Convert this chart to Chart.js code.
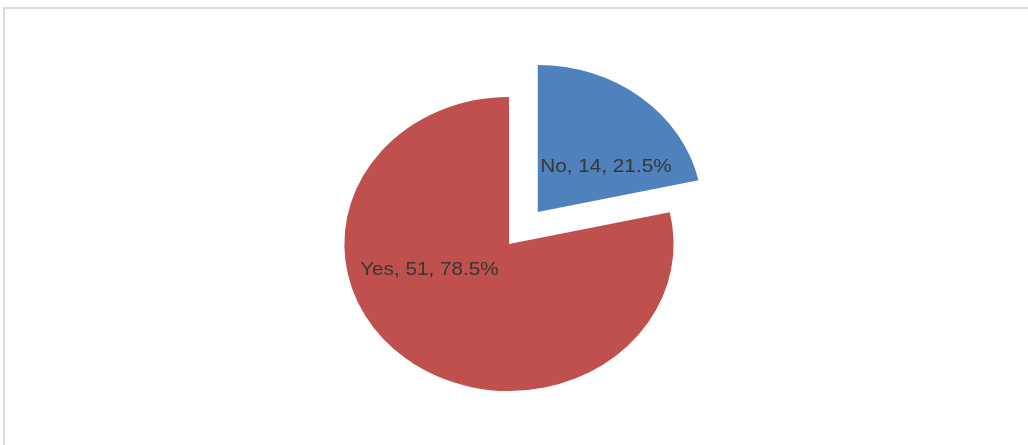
<!DOCTYPE html>
<html>
<head>
<meta charset="utf-8">
<script src="https://cdn.jsdelivr.net/npm/chart.js@4/dist/chart.umd.min.js"></script>
<style>
  html, body { margin: 0; padding: 0; background: #fff; }
  #wrap { position: relative; width: 1028px; height: 445px; overflow: hidden; }
  #frame {
    position: absolute; left: 3px; top: 7px; right: -30px; bottom: -30px;
    border-top: 2px solid #dcdcdc; border-left: 2px solid #dcdcdc;
  }
  canvas { position: absolute; left: 0; top: 0; }
</style>
</head>
<body>
<div id="wrap">
  <div id="frame"></div>
  <canvas id="pie" width="1028" height="445"></canvas>
</div>
<script>
/* ── Data ─────────────────────────────────────────────────────────────── */

const CATEGORIES = ['No', 'Yes'];
const COUNTS     = [14, 51];
const PERCENTS   = ['21.5%', '78.5%'];

/* ── Style ────────────────────────────────────────────────────────────── */

const COLORS = {
    slices: ['#4F81BD', '#C0504D'],
    label:  '#363636',
};

// The source picture was stretched sideways, so the pie is an ellipse.
const STRETCH_X = 1.12;
// How far each slice is pulled out from the centre (px, before stretch).
const EXPLODE   = [41, 0];
// Label nudges from the slice centre point (px, after stretch).
const LABEL_NUDGE = [[31, -4], [-28, -31]];
const LABEL_FONT  = "18.5px 'Liberation Sans', Arial, sans-serif";

/* ── Plugin: stretched, exploded pie with data labels ────────────────── */

const stretchedPie = {
    id: 'stretchedPie',
    beforeDatasetsDraw(chart) {
        const ctx  = chart.ctx;
        const meta = chart.getDatasetMeta(0);
        const cx = meta.data[0].x;
        const cy = meta.data[0].y;

        ctx.save();
        ctx.translate(cx, cy);
        ctx.scale(STRETCH_X, 1);
        ctx.translate(-cx, -cy);

        meta.data.forEach((arc, i) => {
            const mid = (arc.startAngle + arc.endAngle) / 2;
            ctx.save();
            ctx.translate(Math.cos(mid) * EXPLODE[i], Math.sin(mid) * EXPLODE[i]);
            arc.draw(ctx);
            ctx.restore();
        });
        ctx.restore();

        // labels: "Category, count, percent"
        ctx.save();
        ctx.font = LABEL_FONT;
        ctx.fillStyle = COLORS.label;
        ctx.textAlign = 'center';
        ctx.textBaseline = 'middle';
        meta.data.forEach((arc, i) => {
            const mid = (arc.startAngle + arc.endAngle) / 2;
            const p = arc.getCenterPoint();
            const x = cx + (p.x - cx + Math.cos(mid) * EXPLODE[i] / 2) * STRETCH_X + LABEL_NUDGE[i][0];
            const y = p.y + Math.sin(mid) * EXPLODE[i] / 2 + LABEL_NUDGE[i][1];
            const text = `${CATEGORIES[i]}, ${COUNTS[i]}, ${PERCENTS[i]}`;
            ctx.save();
            ctx.translate(x, y);
            ctx.scale(STRETCH_X, 1);
            ctx.fillText(text, 0, 0);
            ctx.restore();
        });
        ctx.restore();
        return false;
    },
};

/* ── Chart ────────────────────────────────────────────────────────────── */

new Chart(document.getElementById('pie').getContext('2d'), {
    type: 'pie',
    data: {
        labels: CATEGORIES,
        datasets: [{
            data: COUNTS,
            backgroundColor: COLORS.slices,
            borderWidth: 0,
        }],
    },
    options: {
        responsive: false,
        animation: false,
        radius: 147,
        layout: { padding: { left: 0, right: 10, top: 43, bottom: 0 } },
        plugins: {
            legend:  { display: false },
            tooltip: { enabled: false },
        },
    },
    plugins: [stretchedPie],
});
</script>
</body>
</html>
